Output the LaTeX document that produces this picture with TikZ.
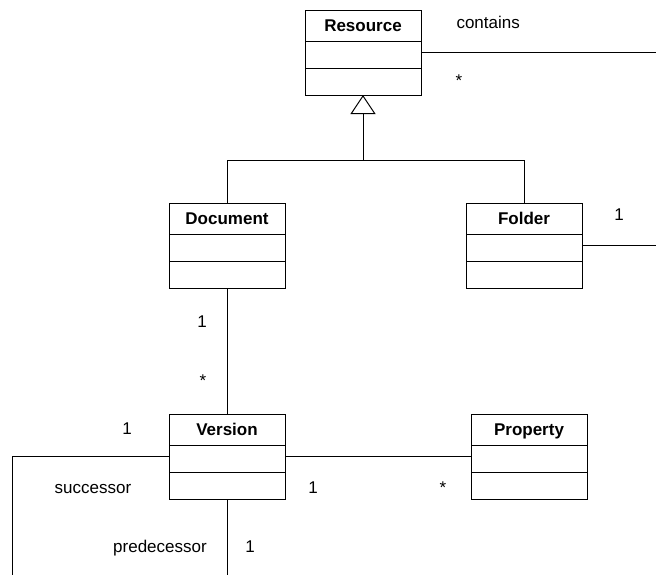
\documentclass[tikz,border=0pt]{standalone}
\usepackage{fontspec}
\setmainfont{Liberation Sans}
\usetikzlibrary{arrows.meta,calc}

% class box: name, top-left corner (x,y), title
\newcommand\umlclass[4]{%
  \node[classbox, anchor=north west] (#1) at (#2,#3) {};
  \draw ($(#1.north west)+(0,31)$) -- ($(#1.north east)+(0,31)$);
  \draw ($(#1.north west)+(0,58)$) -- ($(#1.north east)+(0,58)$);
  \node[classtitle] (#1-t) at ($(#1.north)+(0,21.5)$) {#4};
}

\begin{document}
\begin{tikzpicture}[x=1pt, y=-1pt, line width=1pt,
  font=\fontsize{17pt}{20pt}\selectfont,
  classbox/.style={draw, rectangle, minimum width=116pt, minimum height=85pt,
    inner sep=0pt, outer sep=0pt},
  classtitle/.style={anchor=base, font=\fontsize{17pt}{20pt}\selectfont\bfseries, inner sep=0pt},
  lbl/.style={anchor=base, inner sep=0pt},
  gen/.style={-{Triangle[open, length=19pt, width=25pt, fill=white]}}]

\useasboundingbox (0,0) rectangle (656,574);
\clip (0,0) rectangle (656,574);

% classes
\umlclass{res}{305}{10}{Resource}
\umlclass{doc}{169}{203}{Document}
\umlclass{fol}{466}{203}{Folder}
\umlclass{ver}{169}{414}{Version}
\umlclass{prop}{471}{414}{Property}

% generalization: Document, Folder -> Resource
\coordinate (genjoin) at ($(res.south)+(0,65.5)$);
\draw (doc.north) |- (genjoin) -| (fol.north);
\draw[gen] (genjoin) -- (res.south);

% containment: Folder contains Resources
\coordinate (contR) at (690,150);
\draw (res.east) -| (contR) |- (fol.east);
\node[lbl, anchor=base west] (lcontains) at (456,28) {contains};
\node[lbl] (lresmany) at (459,86) {*};
\node[lbl] (lfolone) at (619,220) {1};

% Document -- Version
\draw (doc.south) -- (ver.north);
\node[lbl] (ldocone) at (202,327) {1};
\node[lbl] (ldocmany) at (203,386) {*};

% Version -- Property
\draw (ver.east) -- (prop.west);
\node[lbl] (lverone) at (313,493) {1};
\node[lbl] (lpropmany) at (443,493) {*};

% Version self-association (successor / predecessor)
\coordinate (selfL) at (12,600);
\draw (ver.west) -| (selfL) -| (ver.south);
\node[lbl] (lsuccone) at (127,434) {1};
\node[lbl] (lsucc) at (93,493) {successor};
\node[lbl] (lpred) at (160,552) {predecessor};
\node[lbl] (lpredone) at (250,552) {1};

\end{tikzpicture}
\end{document}
